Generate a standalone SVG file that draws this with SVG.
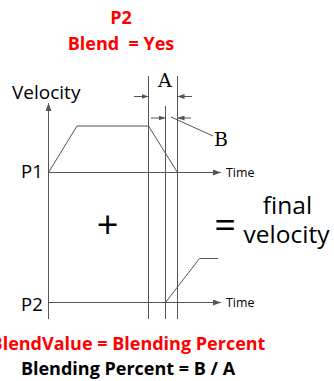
<svg xmlns="http://www.w3.org/2000/svg" width="334" height="381" viewBox="0 0 334 381">
<defs>
<style>
.ln{stroke:#555;stroke-width:1;fill:none}
.red{fill:#f00;font-family:"Open Sans","Liberation Sans",sans-serif;font-weight:bold}
.blk{fill:#000;font-family:"Open Sans","Liberation Sans",sans-serif}
.ser{fill:#000;font-family:"DejaVu Serif","Liberation Serif",serif}
.ah{fill:#555}
</style>
<marker id="arr" viewBox="0 0 8 6" refX="8" refY="3" markerWidth="8" markerHeight="6" markerUnits="userSpaceOnUse" orient="auto"><path d="M0,0L8,3L0,6z" class="ah"/></marker>
<marker id="arrs" viewBox="0 0 7 5" refX="7" refY="2.5" markerWidth="7" markerHeight="5" markerUnits="userSpaceOnUse" orient="auto"><path d="M0,0L7,2.5L0,5z" class="ah"/></marker>
</defs>
<rect width="334" height="381" fill="#fff"/>
<g id="title">
<text class="red" x="121" y="24" font-size="18" text-anchor="middle">P2</text>
<text class="red" x="121" y="50" font-size="18" text-anchor="middle" xml:space="preserve">Blend  = Yes</text>
</g>
<g id="connectors">
<line class="ln" x1="48.5" y1="319" x2="48.5" y2="103" marker-end="url(#arr)"/>
<line class="ln" x1="48.5" y1="172.5" x2="221" y2="172.5" marker-end="url(#arr)"/>
<line class="ln" x1="48.5" y1="302.5" x2="221" y2="302.5" marker-end="url(#arr)"/>
<line class="ln" x1="148.5" y1="76" x2="148.5" y2="319"/>
<line class="ln" x1="165.5" y1="106" x2="165.5" y2="319"/>
<line class="ln" x1="177.5" y1="76" x2="177.5" y2="319"/>
<polyline class="ln" points="48.5,172.5 77,126 148.5,126 177.5,172.5"/>
<polyline class="ln" points="165.5,302.5 199.5,258.5 218,258.5"/>
<line class="ln" x1="134" y1="96.5" x2="148.5" y2="96.5" marker-end="url(#arrs)"/>
<line class="ln" x1="192" y1="96.5" x2="177.5" y2="96.5" marker-end="url(#arrs)"/>
<line class="ln" x1="151" y1="118" x2="165.5" y2="118" marker-end="url(#arrs)"/>
<line class="ln" x1="191" y1="118" x2="177.5" y2="118" marker-end="url(#arrs)"/>
<line class="ln" x1="171" y1="117" x2="213" y2="136"/>
</g>
<g id="labels">
<text class="blk" x="12" y="99" font-size="19">Velocity</text>
<text class="blk" x="21" y="178" font-size="18.5">P1</text>
<text class="blk" x="21" y="311" font-size="18.5">P2</text>
<text class="blk" x="226" y="177" font-size="12.4">Time</text>
<text class="blk" x="226" y="306.5" font-size="12.4">Time</text>
<text class="ser" x="158" y="86.5" font-size="19">A</text>
<text class="ser" x="214" y="146" font-size="19">B</text>
<text class="blk" x="107.5" y="238" font-size="38" text-anchor="middle">+</text>
<text class="blk" x="225" y="238" font-size="38" text-anchor="middle">=</text>
<text class="blk" x="287.5" y="214" font-size="24.5" text-anchor="middle">final</text>
<text class="blk" x="286.5" y="243" font-size="24.5" text-anchor="middle">velocity</text>
</g>
<g id="footer">
<text class="red" x="128" y="350" font-size="18" text-anchor="middle">BlendValue = Blending Percent</text>
<text class="blk" x="128" y="375" font-size="18" font-weight="bold" text-anchor="middle">Blending Percent = B / A</text>
</g>
</svg>
